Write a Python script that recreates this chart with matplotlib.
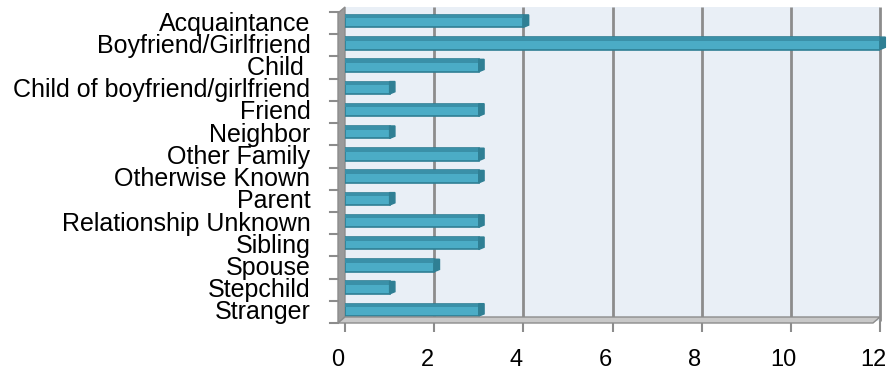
import matplotlib
matplotlib.use("Agg")
import matplotlib.pyplot as plt
from matplotlib.patches import Polygon, Rectangle
from matplotlib.transforms import ScaledTranslation

categories = ["Acquaintance", "Boyfriend/Girlfriend", "Child ", "Child of boyfriend/girlfriend",
              "Friend", "Neighbor", "Other Family", "Otherwise Known", "Parent",
              "Relationship Unknown", "Sibling", "Spouse", "Stepchild", "Stranger"]
values = [4, 12, 3, 1, 3, 1, 3, 3, 1, 3, 3, 2, 1, 3]
xticks = [0, 2, 4, 6, 8, 10, 12]

plt.rcParams['font.family'] = ['Liberation Sans', 'DejaVu Sans']

W, H = 889, 371
fig = plt.figure(figsize=(W / 100, H / 100), dpi=100)
x0, x1 = 345, 880
y_top, y_bot = 10, 321
ax = fig.add_axes([x0 / W, 1 - y_bot / H, (x1 - x0) / W, (y_bot - y_top) / H])
ax.set_facecolor('#E9EFF6')
n = len(categories)
ax.set_xlim(0, 12)
ax.set_ylim(n - 0.5, -0.5)
px = 12 / (x1 - x0)
py = n / (y_bot - y_top)

# extend back wall up a little
ax.add_patch(Rectangle((0, -0.5 - 3 * py), 12, 3 * py, facecolor='#E9EFF6', lw=0,
                       clip_on=False, zorder=0))
for xt in xticks[1:]:
    ax.plot([xt, xt], [n - 0.5, -0.5 - 3 * py], color='#8C8C8C', lw=2, zorder=1,
            clip_on=False, solid_capstyle='butt')

pos = list(range(n))
bh = 0.56
ax.barh(pos, values, height=bh, color='#4BACC6', edgecolor='#2F7F94', lw=1.2, zorder=3)
ax.barh([p - bh / 2 + 0.08 for p in pos], values, height=0.16, color='#3A90A8', lw=0, zorder=4)
for p, v in zip(pos, values):
    poly = Polygon([(v, p - bh / 2), (v + 0.12, p - bh / 2), (v + 0.12, p + bh / 2 - 0.1),
                    (v, p + bh / 2)], closed=True, color='#2F7F94', zorder=4, clip_on=False)
    ax.add_patch(poly)

# floor and left wall (3D look)
yb = n - 0.5 + 2 * py
floor = Polygon([(-7 * px, yb), (0, yb - 6 * py), (12, yb - 6 * py),
                 (12 - 7 * px, yb)], closed=True, facecolor='#C8C8C8',
                edgecolor='#8C8C8C', lw=1, zorder=5, clip_on=False)
ax.add_patch(floor)
wall = Polygon([(-7 * px, yb), (0, yb - 6 * py), (0, -0.5 - 3 * py),
                (-7 * px, -0.5 + 3 * py)], closed=True, facecolor='#9A9A9A',
               edgecolor='#8C8C8C', lw=1, zorder=2, clip_on=False)
ax.add_patch(wall)

for s in ax.spines.values():
    s.set_visible(False)

ax.set_xticks(xticks)
ax.set_xticklabels([str(t) for t in xticks], fontsize=17)
ax.tick_params(axis='x', length=8, color='#8C8C8C', width=1.5, pad=12)
for lab in ax.get_xticklabels():
    lab.set_transform(lab.get_transform() + ScaledTranslation(-7 / 100, 0, fig.dpi_scale_trans))

ax.set_yticks(pos)
ax.set_yticklabels(categories, fontsize=18)
ax.tick_params(axis='y', length=0, pad=25)
for b in [p - 0.5 for p in pos] + [n - 0.5]:
    ax.plot([-15 * px, -7 * px], [b + 2 * py, b + 2 * py], color='#8C8C8C', lw=1.5, clip_on=False)

fig.savefig('out.png', dpi=100)
